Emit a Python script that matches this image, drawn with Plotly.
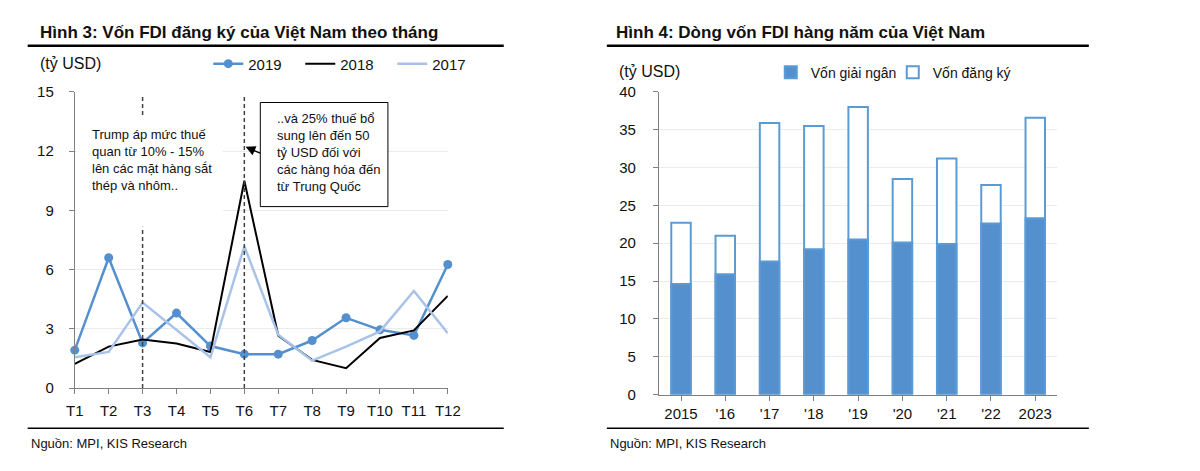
import plotly.graph_objects as go

W, H = 1200, 471


def px(x):
    return x / W


def py(y):
    return 1 - y / H


# --- Hình 3 data: monthly registered FDI (tỷ USD)
months = ["T1", "T2", "T3", "T4", "T5", "T6", "T7", "T8", "T9", "T10", "T11", "T12"]
month_pos = list(range(1, 13))
fdi_2019 = [1.92, 6.6, 2.29, 3.8, 2.13, 1.72, 1.72, 2.41, 3.56, 2.95, 2.67, 6.26]
fdi_2018 = [1.23, 2.1, 2.46, 2.26, 1.83, 10.5, 2.66, 1.43, 1.01, 2.54, 2.92, 4.67]
fdi_2017 = [1.56, 1.83, 4.33, 2.95, 1.56, 7.18, 2.7, 1.39, 2.1, 2.87, 4.92, 2.78]

# --- Hình 4 data: yearly FDI flows (tỷ USD)
years = ["2015", "'16", "'17", "'18", "'19", "'20", "'21", "'22", "2023"]
disbursed = [14.6, 15.9, 17.6, 19.2, 20.5, 20.1, 19.9, 22.6, 23.3]
registered = [22.7, 21.0, 35.9, 35.5, 38.0, 28.5, 31.2, 27.7, 36.6]

BLUE = "#5590CE"
LIGHT = "#A9C3E8"
FONT = "Liberation Sans, Arial, sans-serif"

fig = go.Figure()

fig.add_trace(go.Scatter(x=month_pos, y=fdi_2019, name="2019", mode="lines+markers",
                         line=dict(color=BLUE, width=2.5), marker=dict(size=9, color=BLUE),
                         cliponaxis=False, xaxis="x", yaxis="y", legend="legend"))
fig.add_trace(go.Scatter(x=month_pos, y=fdi_2018, name="2018", mode="lines",
                         line=dict(color="black", width=2),
                         cliponaxis=False, xaxis="x", yaxis="y", legend="legend"))
fig.add_trace(go.Scatter(x=month_pos, y=fdi_2017, name="2017", mode="lines",
                         line=dict(color=LIGHT, width=2.5),
                         cliponaxis=False, xaxis="x", yaxis="y", legend="legend"))

fig.add_trace(go.Bar(x=years, y=registered, name="Vốn đăng ký", width=0.44,
                     marker=dict(color="white", line=dict(color="#5B9BD5", width=2)),
                     xaxis="x2", yaxis="y2", legend="legend2", legendrank=2))
fig.add_trace(go.Bar(x=years, y=disbursed, name="Vốn giải ngân", width=0.44,
                     marker=dict(color=BLUE, line=dict(color="#5B9BD5", width=2)),
                     xaxis="x2", yaxis="y2", legend="legend2", legendrank=1))

axis_common = dict(showline=True, linecolor="#808080", linewidth=1, ticks="outside",
                   ticklen=5, tickcolor="#808080", tickfont=dict(family=FONT, size=15, color="#111"))

shapes = [
    # dashed markers at T3 and T6
    dict(type="line", xref="x", yref="y", x0=3, x1=3, y0=0, y1=14.8,
         line=dict(color="#404040", width=1.5, dash="4px,3px")),
    dict(type="line", xref="x", yref="y", x0=6, x1=6, y0=0, y1=14.8,
         line=dict(color="#404040", width=1.5, dash="4px,3px")),
    # white text area on the left
    dict(type="rect", xref="paper", yref="paper", x0=px(69), x1=px(218), y0=py(226), y1=py(110),
         fillcolor="white", line=dict(width=0)),
    # bordered callout box
    dict(type="rect", xref="paper", yref="paper", x0=px(256), x1=px(386), y0=py(205), y1=py(97),
         fillcolor="white", line=dict(color="black", width=1)),
    # header and footer rules
    dict(type="line", xref="paper", yref="paper", x0=px(19), x1=px(504), y0=py(38), y1=py(38),
         line=dict(color="black", width=2.5)),
    dict(type="line", xref="paper", yref="paper", x0=px(19), x1=px(504), y0=py(435), y1=py(435),
         line=dict(color="black", width=1.5)),
    dict(type="line", xref="paper", yref="paper", x0=px(609), x1=px(1100), y0=py(38), y1=py(38),
         line=dict(color="black", width=2.5)),
    dict(type="line", xref="paper", yref="paper", x0=px(609), x1=px(1100), y0=py(435), y1=py(435),
         line=dict(color="black", width=1.5)),
]


def note(text, x, y, size=15, xanchor="left", yanchor="middle", **kw):
    return dict(text=text, x=px(x), y=py(y), xref="paper", yref="paper", showarrow=False,
                xanchor=xanchor, yanchor=yanchor, font=dict(family=FONT, size=size, color="#111"), **kw)


annotations = [
    note("<b>Hình 3: Vốn FDI đăng ký của Việt Nam theo tháng</b>", 30, 24, size=17),
    note("<b>Hình 4: Dòng vốn FDI hàng năm của Việt Nam</b>", 616, 24, size=17),
    note("(tỷ USD)", 30, 57, size=16),
    note("(tỷ USD)", 619, 65, size=16),
    note("Nguồn: MPI, KIS Research", 20, 451, size=13),
    note("Nguồn: MPI, KIS Research", 610, 451, size=13),
    note("Trump áp mức thuế<br>quan từ 10% - 15%<br>lên các mặt hàng sắt<br>thép và nhôm..",
         83, 120, size=13, yanchor="top", align="left"),
    note("..và 25% thuế bổ<br>sung lên đến 50<br>tỷ USD đối với<br>các hàng hóa đến<br>từ Trung Quốc",
         271, 104, size=13, yanchor="top", align="left"),
    dict(text="", x=px(241), y=py(143), xref="paper", yref="paper", ax=16, ay=7,
         showarrow=True, arrowhead=2, arrowsize=1.3, arrowwidth=1.5, arrowcolor="black"),
]

fig.update_layout(
    width=W, height=H,
    margin=dict(l=0, r=0, t=0, b=0),
    paper_bgcolor="white", plot_bgcolor="white",
    font=dict(family=FONT, color="#111"),
    barmode="overlay",
    showlegend=True,
    xaxis=dict(domain=[px(67), px(447)], range=[1, 12], tickvals=month_pos, ticktext=months,
               showgrid=False, zeroline=False, anchor="y", ticklabelstandoff=4, **axis_common),
    yaxis=dict(domain=[py(393.3), py(86)], range=[0, 15], dtick=3, showgrid=True,
               gridcolor="#EBEBEB", gridwidth=1, zeroline=False, anchor="x",
               ticklabelstandoff=12, **axis_common),
    xaxis2=dict(domain=[px(662), px(1068)], showgrid=False, zeroline=False, anchor="y2",
                **axis_common),
    yaxis2=dict(domain=[py(400), py(86)], range=[0, 40], dtick=5, showgrid=True,
                gridcolor="#EBEBEB", gridwidth=1, zeroline=False, anchor="x2",
                ticklabelstandoff=14, **axis_common),
    legend=dict(orientation="h", x=px(203), y=py(57), xanchor="left", yanchor="middle",
                entrywidth=47, entrywidthmode="pixels", bgcolor="rgba(0,0,0,0)",
                font=dict(family=FONT, size=15, color="#111")),
    legend2=dict(orientation="h", x=px(776), y=py(66), xanchor="left", yanchor="middle",
                 bgcolor="rgba(0,0,0,0)", itemwidth=30, entrywidth=77, entrywidthmode="pixels",
                 font=dict(family=FONT, size=14, color="#111")),
    shapes=shapes,
    annotations=annotations,
)

# page body margin removed so the 1200x471 figure fills the window exactly
fig.write_html("out.html", config={"displayModeBar": False},
               post_script="document.body.style.margin = '0';")
